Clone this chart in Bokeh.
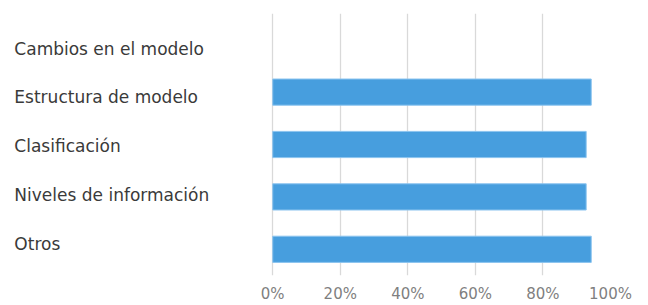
from bokeh.plotting import figure
from bokeh.models import Range1d, FixedTicker, NumeralTickFormatter
from bokeh.core.properties import value
from bokeh.embed import file_html
from bokeh.resources import INLINE

categories = ["Cambios en el modelo", "Estructura de modelo", "Clasificación",
              "Niveles de información", "Otros"]
values = [float("nan"), 0.943, 0.928, 0.928, 0.943]
tick_values = [0, 0.2, 0.4, 0.6, 0.8, 1.0]

n = len(categories)
ys = [n - 0.5 - i for i in range(n)]
label_ys = [n - (0.668 + 0.935 * i) for i in range(n)]

FONT = "DejaVu Sans"
LABEL_X = -0.765

p = figure(width=648, height=305, output_backend="svg", toolbar_location=None,
           x_range=Range1d(-0.806, 1), y_range=Range1d(0, n),
           min_border_left=0, min_border_right=38, min_border_top=13,
           min_border_bottom=30)
p.outline_line_color = None
p.background_fill_color = "white"
p.border_fill_color = "white"

p.hbar(y=ys, right=values, left=0, height=0.5, fill_color="#479ede",
       line_color="#8cc4ef", line_width=1)

p.text(x=[LABEL_X] * n, y=label_ys, text=categories, text_align="left",
       text_baseline="middle", text_font=value(FONT), text_font_size="17px",
       text_color="#3a3a3a")

p.yaxis.visible = False
p.ygrid.grid_line_color = None
p.xgrid.grid_line_color = "#d9d9d9"
p.xgrid.grid_line_width = 1.3
p.xaxis.ticker = FixedTicker(ticks=tick_values)
p.xaxis.formatter = NumeralTickFormatter(format="0%")
p.xaxis.axis_line_color = None
p.xaxis.major_tick_line_color = None
p.xaxis.minor_tick_line_color = None
p.xaxis.major_label_standoff = 3
p.xaxis.major_label_text_font = FONT
p.xaxis.major_label_text_font_size = "15px"
p.xaxis.major_label_text_color = "#7f7f7f"

open("out.html", "w").write(file_html(p, INLINE))
